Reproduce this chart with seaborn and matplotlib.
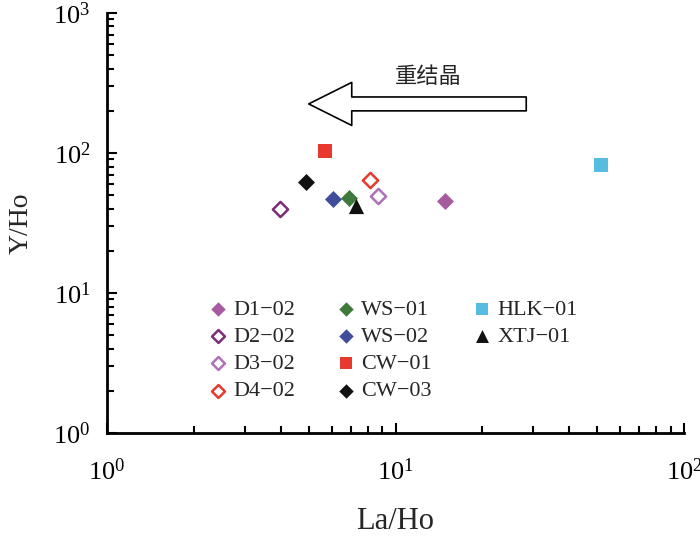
import matplotlib
matplotlib.use("Agg")
import matplotlib.pyplot as plt
import seaborn as sns
from matplotlib.lines import Line2D
from matplotlib.ticker import LogLocator, LogFormatterMathtext, NullFormatter

sns.set_style("white")
plt.rcParams['font.family'] = ['Liberation Serif', 'DejaVu Serif']
plt.rcParams['mathtext.fontset'] = 'custom'
plt.rcParams['mathtext.rm'] = 'Liberation Serif'
plt.rcParams['mathtext.it'] = 'Liberation Serif:italic'

# ---- data ----
samples = ['D1−02', 'D2−02', 'D3−02', 'D4−02', 'WS−01', 'WS−02',
           'CW−01', 'CW−03', 'HLK−01', 'XTJ−01']
la_ho = [14.9, 3.97, 8.67, 8.13, 6.88, 6.05, 5.68, 4.88, 51.6, 7.27]
y_ho = [45.4, 39.8, 49.3, 64.1, 47.7, 46.9, 103, 62, 82, 41.8]

# ---- styles ----
markers = ['D', 'D', 'D', 'D', 'D', 'D', 's', 'D', 's', '^']
edge_colors = ['#A65BA0', '#7B2D7B', '#B070B8', '#E8392C', '#3E7A3A',
               '#3F4E9B', '#E8392F', '#111111', '#56BCE0', '#111111']
filled = [True, False, False, False, True, True, True, True, True, True]
sizes = [75, 60, 60, 60, 75, 75, 105, 75, 105, 120]

fig, ax = plt.subplots(figsize=(7, 5.38), dpi=100)
fig.subplots_adjust(left=0.153, right=0.977, bottom=0.195, top=0.976)

for i, name in enumerate(samples):
    face = edge_colors[i] if filled[i] else 'white'
    sns.scatterplot(x=[la_ho[i]], y=[y_ho[i]], marker=markers[i], s=sizes[i],
                    color=face, edgecolor=edge_colors[i],
                    linewidth=0 if filled[i] else 1.8, label=name, ax=ax)

ax.set_xscale('log')
ax.set_yscale('log')
ax.set_xlim(1, 100)
ax.set_ylim(1, 1000)

for axis in (ax.xaxis, ax.yaxis):
    axis.set_major_locator(LogLocator(base=10))
    axis.set_minor_locator(LogLocator(base=10, subs=range(2, 10)))
    axis.set_major_formatter(LogFormatterMathtext())
    axis.set_minor_formatter(NullFormatter())

ax.tick_params(which='both', direction='in', width=1.5, colors='black',
               labelsize=19, pad=12)
ax.tick_params(which='major', length=7)
ax.tick_params(which='minor', length=5)
ax.tick_params(axis='y', which='both', left=True)
ax.tick_params(axis='x', which='both', bottom=True)
ax.tick_params(axis='x', pad=18)

for side in ('top', 'right'):
    ax.spines[side].set_visible(False)
for side in ('left', 'bottom'):
    ax.spines[side].set_linewidth(2)
    ax.spines[side].set_color('black')

ax.set_xlabel('La/Ho', fontsize=22, labelpad=16)
ax.set_ylabel('Y/Ho', fontsize=20, labelpad=14)

# recrystallisation arrow
ax.annotate('', xy=(5.0, 224), xytext=(28.4, 224),
            arrowprops=dict(arrowstyle='simple,head_length=3.1,head_width=3.1,tail_width=1.0',
                            mutation_scale=10, facecolor='white', edgecolor='black',
                            linewidth=1.2, shrinkA=0, shrinkB=0))
ax.text(13.0, 350, '重结晶', fontsize=16, ha='center', va='center',
        family=['Noto Sans CJK SC', 'DejaVu Sans'])

# legend: 4 + 4 + 2 layout, pad the last column with blank entries
handles, labels = ax.get_legend_handles_labels()
blank = Line2D([], [], linestyle='none', marker=None)
handles += [blank, blank]
labels += ['', '']
ax.legend(handles, labels, ncol=3, frameon=False, loc='upper left',
          bbox_to_anchor=(0.158, 0.34), fontsize=16,
          handletextpad=0.2, columnspacing=1.75, labelspacing=0.3,
          borderaxespad=0, handlelength=1.0, markerscale=0.85)

fig.savefig('out.png', dpi=100)
